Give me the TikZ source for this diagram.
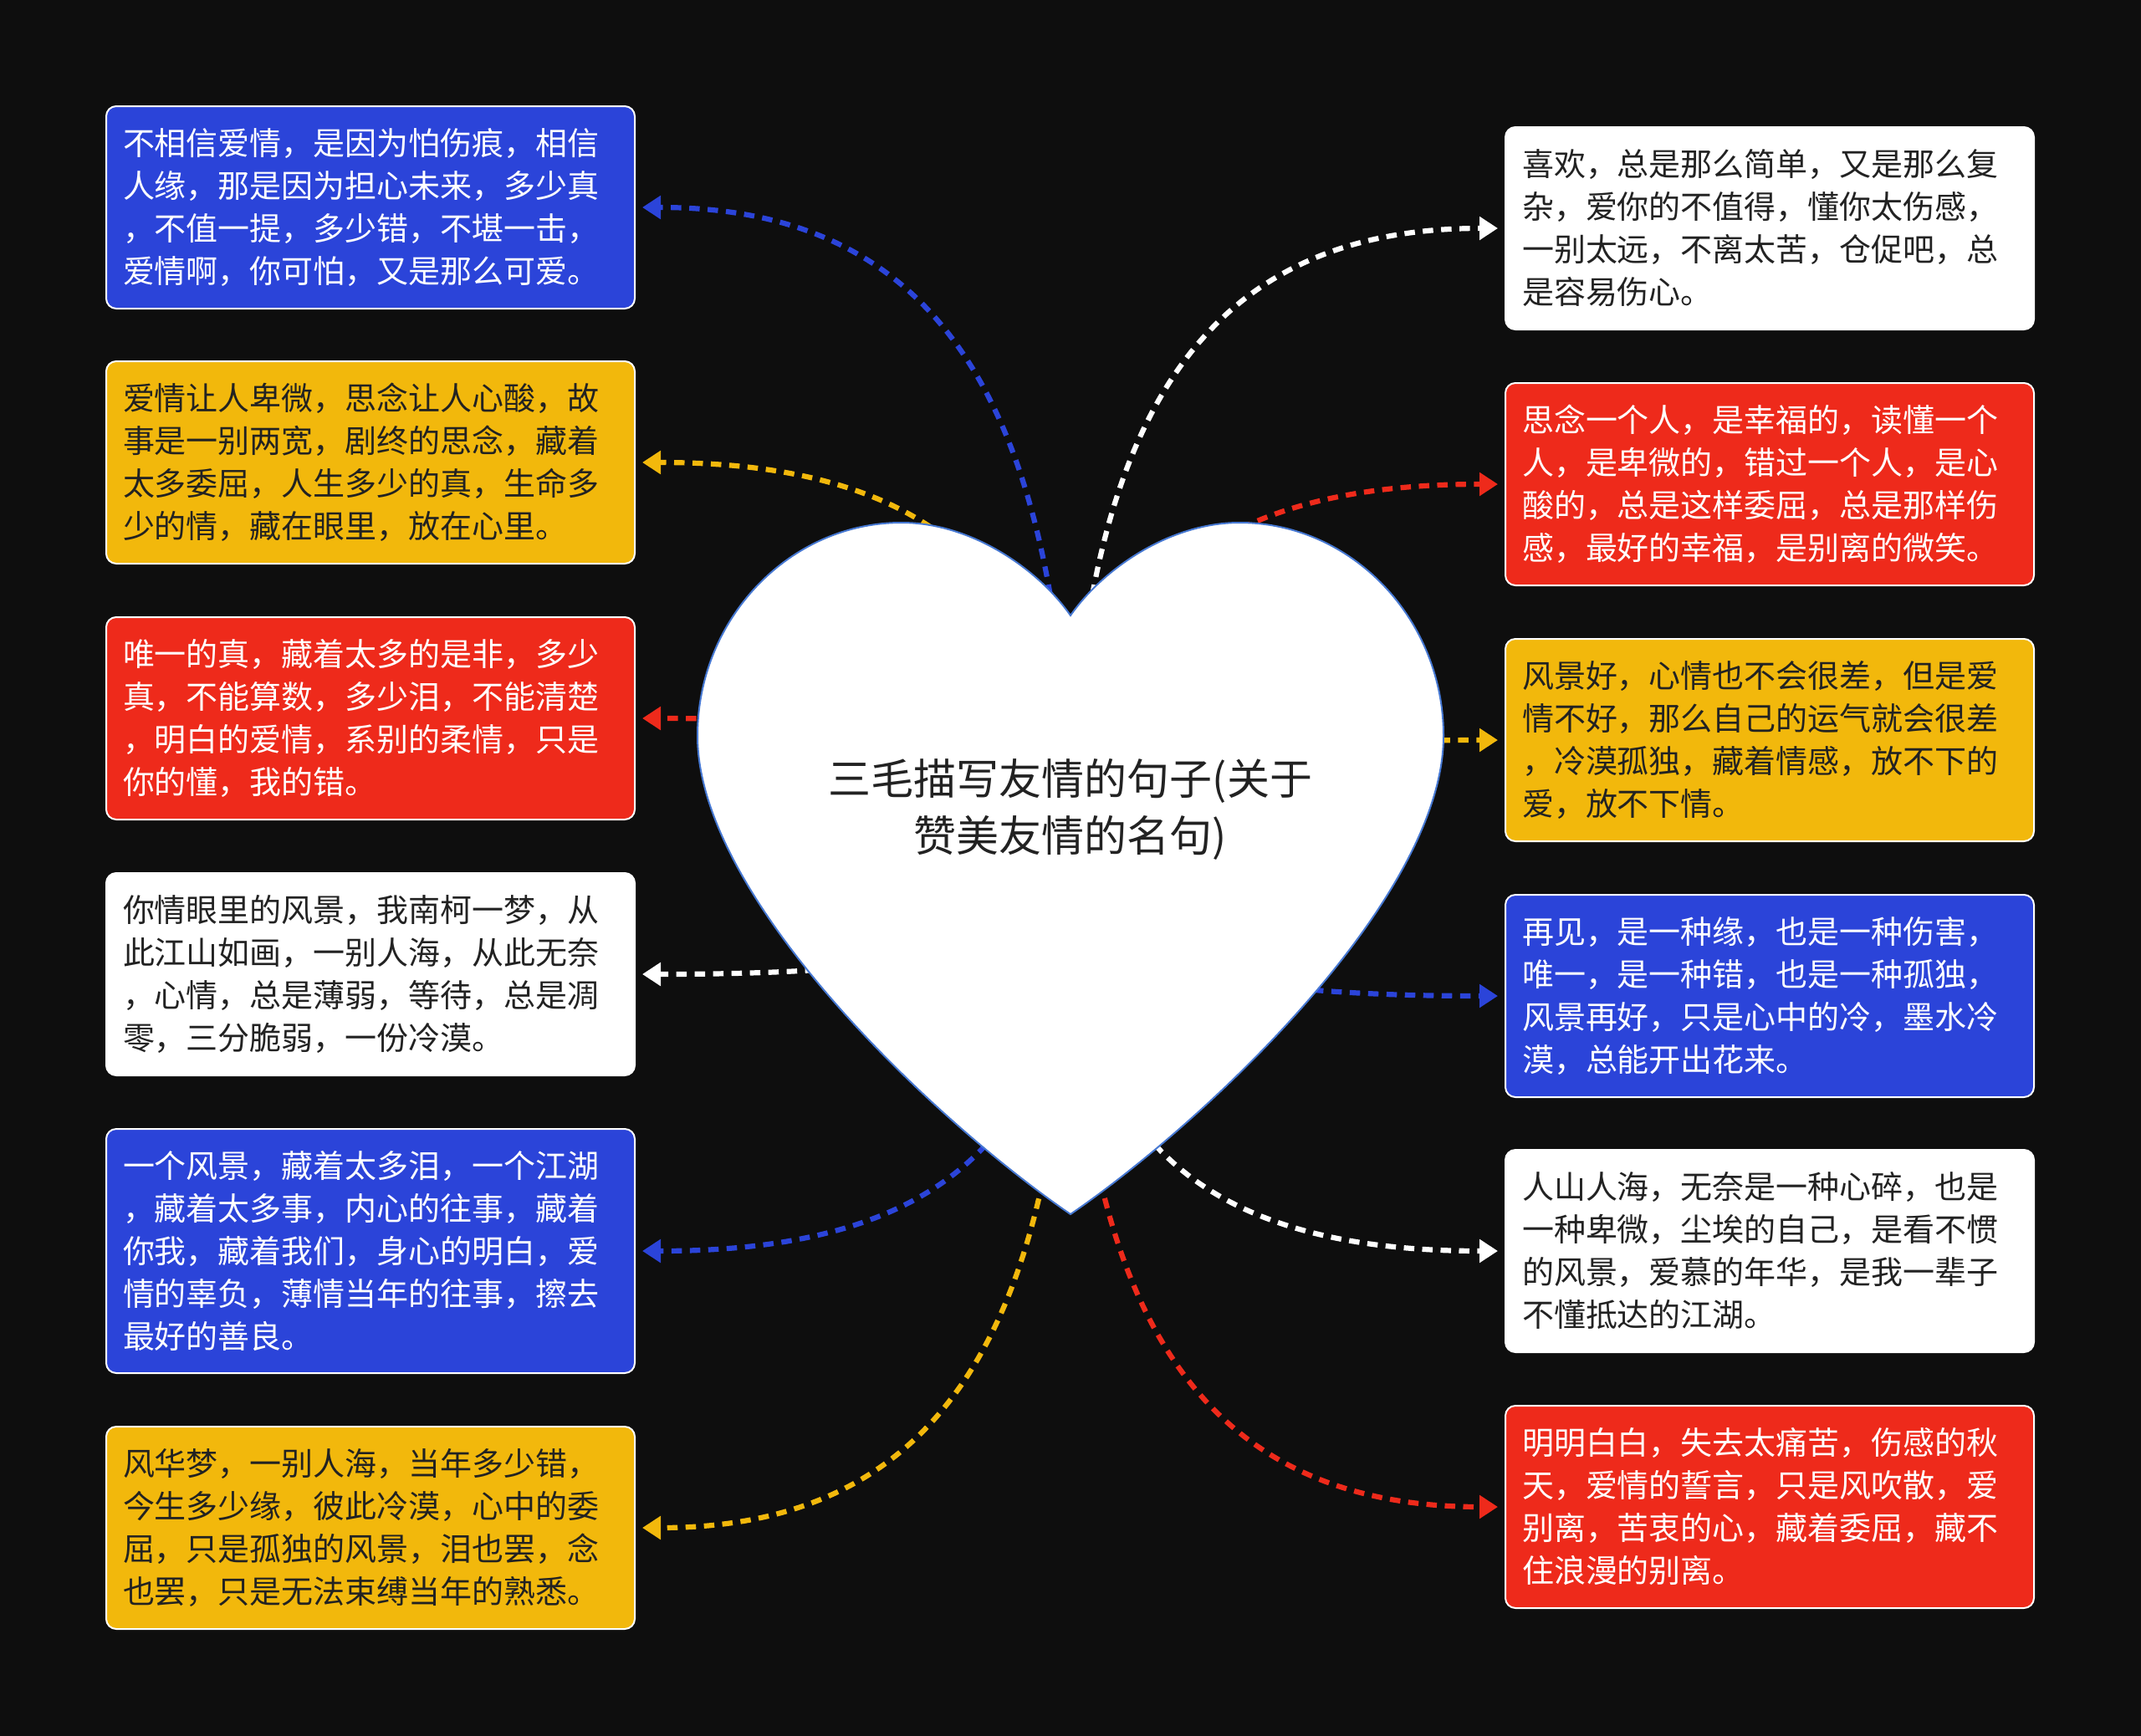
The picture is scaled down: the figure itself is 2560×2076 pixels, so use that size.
\documentclass[tikz,border=0pt]{standalone}
\usepackage{fontspec}
\setmainfont{Noto Sans CJK SC}
\usetikzlibrary{arrows.meta,calc}
\definecolor{bg}{RGB}{14,14,14}
\definecolor{cblue}{RGB}{43,68,217}
\definecolor{cred}{RGB}{238,42,27}
\definecolor{cyel}{RGB}{242,184,12}
\definecolor{cwhite}{RGB}{255,255,255}
\definecolor{txtdark}{RGB}{34,34,34}
\definecolor{heartline}{RGB}{70,120,210}
\newcommand\myconn[3]{\draw[conn=#1] (c) .. controls ($(c)!#3!(c|-#2)$) and ($(#2)!#3!(c|-#2)$) .. (#2);}
\begin{document}
\begin{tikzpicture}[x=0.1mm,y=-0.1mm,
  box/.style={rectangle, rounded corners=1.2mm, draw=white, line width=0.2mm,
    minimum width=63.2mm, minimum height=24.2mm, text width=59.2mm, inner xsep=2mm, inner ysep=0pt,
    align=left, font=\fontsize{10.81pt}{14.51pt}\selectfont, anchor=center},
  bluebox/.style={box, fill=cblue, text=white},
  redbox/.style={box, fill=cred, text=white},
  yelbox/.style={box, fill=cyel, text=txtdark},
  whitebox/.style={box, fill=white, text=txtdark},
  conn/.style={draw=#1, line width=0.62mm, dash pattern=on 1.25mm off 0.95mm,
    -{Triangle[length=2.2mm,width=2.7mm]}, shorten >=0.8mm},
  heart/.style={fill=white, draw=heartline, line width=0.2mm},
  title/.style={align=center, text=txtdark, font=\fontsize{14.51pt}{19.35pt}\selectfont}
]
\fill[bg] (0,0) rectangle (2560,2076);
\useasboundingbox (0,0) rectangle (2560,2076);

% left boxes
\node[bluebox] (l1) at (443,248) {不相信爱情，是因为怕伤痕，相信\\人缘，那是因为担心未来，多少真\\，不值一提，多少错，不堪一击，\\爱情啊，你可怕，又是那么可爱。};
\node[yelbox] (l2) at (443,553) {爱情让人卑微，思念让人心酸，故\\事是一别两宽，剧终的思念，藏着\\太多委屈，人生多少的真，生命多\\少的情，藏在眼里，放在心里。};
\node[redbox] (l3) at (443,859) {唯一的真，藏着太多的是非，多少\\真，不能算数，多少泪，不能清楚\\，明白的爱情，系别的柔情，只是\\你的懂，我的错。};
\node[whitebox] (l4) at (443,1165) {你情眼里的风景，我南柯一梦，从\\此江山如画，一别人海，从此无奈\\，心情，总是薄弱，等待，总是凋\\零，三分脆弱，一份冷漠。};
\node[bluebox, minimum height=29.2mm] (l5) at (443,1496) {一个风景，藏着太多泪，一个江湖\\，藏着太多事，内心的往事，藏着\\你我，藏着我们，身心的明白，爱\\情的辜负，薄情当年的往事，擦去\\最好的善良。};
\node[yelbox] (l6) at (443,1827) {风华梦，一别人海，当年多少错，\\今生多少缘，彼此冷漠，心中的委\\屈，只是孤独的风景，泪也罢，念\\也罢，只是无法束缚当年的熟悉。};

% right boxes
\node[whitebox] (r1) at (2116,273) {喜欢，总是那么简单，又是那么复\\杂，爱你的不值得，懂你太伤感，\\一别太远，不离太苦，仓促吧，总\\是容易伤心。};
\node[redbox] (r2) at (2116,579) {思念一个人，是幸福的，读懂一个\\人，是卑微的，错过一个人，是心\\酸的，总是这样委屈，总是那样伤\\感，最好的幸福，是别离的微笑。};
\node[yelbox] (r3) at (2116,885) {风景好，心情也不会很差，但是爱\\情不好，那么自己的运气就会很差\\，冷漠孤独，藏着情感，放不下的\\爱，放不下情。};
\node[bluebox] (r4) at (2116,1191) {再见，是一种缘，也是一种伤害，\\唯一，是一种错，也是一种孤独，\\风景再好，只是心中的冷，墨水冷\\漠，总能开出花来。};
\node[whitebox] (r5) at (2116,1496) {人山人海，无奈是一种心碎，也是\\一种卑微，尘埃的自己，是看不惯\\的风景，爱慕的年华，是我一辈子\\不懂抵达的江湖。};
\node[redbox] (r6) at (2116,1802) {明明白白，失去太痛苦，伤感的秋\\天，爱情的誓言，只是风吹散，爱\\别离，苦衷的心，藏着委屈，藏不\\住浪漫的别离。};

% center
\coordinate (c) at (1280,1040);

% connectors
\myconn{cblue}{l1.east}{0.7}
\myconn{cyel}{l2.east}{0.7}
\myconn{cred}{l3.east}{0.7}
\myconn{cwhite}{l4.east}{0.7}
\myconn{cblue}{l5.east}{0.7}
\myconn{cyel}{l6.east}{0.7}
\myconn{cwhite}{r1.west}{0.7}
\myconn{cred}{r2.west}{0.7}
\myconn{cyel}{r3.west}{0.7}
\myconn{cblue}{r4.west}{0.7}
\myconn{cwhite}{r5.west}{0.7}
\myconn{cred}{r6.west}{0.7}

% heart
\path[heart] (1280,736)
  .. controls (1241,680) and (1161,625) .. (1078,625)
  .. controls (944,625) and (834,740) .. (834,880)
  .. controls (834,1075) and (1122,1344) .. (1280,1452)
  .. controls (1438,1344) and (1726,1075) .. (1726,880)
  .. controls (1726,740) and (1616,625) .. (1482,625)
  .. controls (1399,625) and (1319,680) .. (1280,736) -- cycle;

\node[title] (t) at (1280,968) {三毛描写友情的句子(关于\\赞美友情的名句)};
\end{tikzpicture}
\end{document}
